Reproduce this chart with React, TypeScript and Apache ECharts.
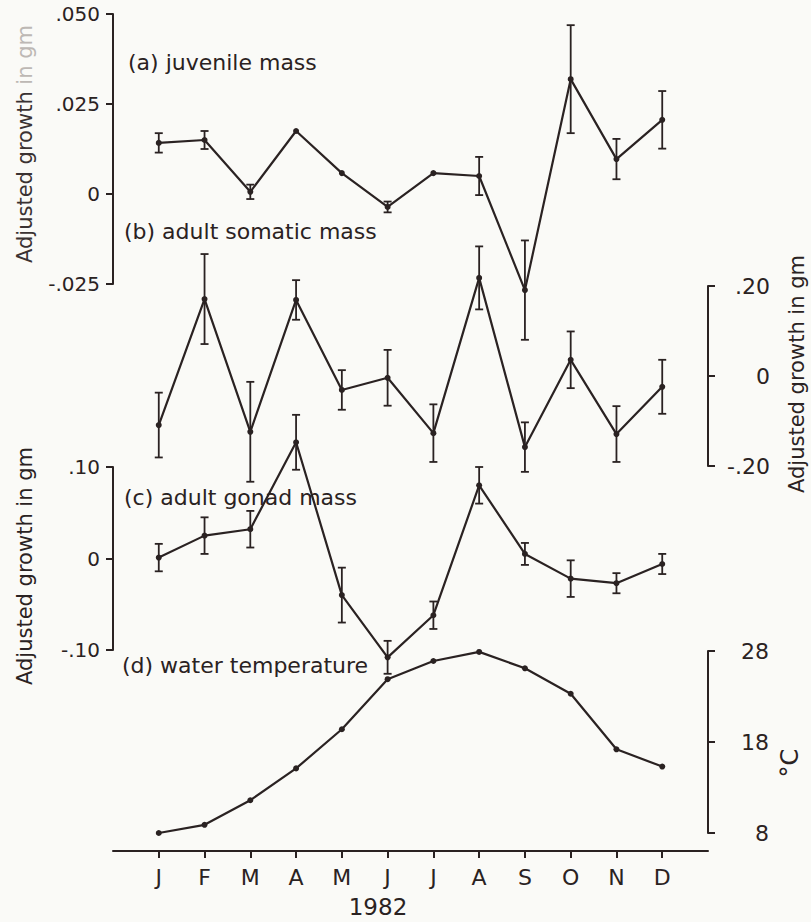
import React, { useEffect, useRef } from "react";
import * as echarts from "echarts";

// ---- data ----
const MONTH_LABELS = ["J", "F", "M", "A", "M", "J", "J", "A", "S", "O", "N", "D"];
const YEAR_LABEL = "1982";

// (a) juvenile mass
const juvValues = [0.0142, 0.015, 0.0006, 0.0175, 0.0058, -0.0036, 0.0058, 0.005, -0.0267, 0.0319, 0.0097, 0.0206];
const juvErrors = [0.0027, 0.0025, 0.002, null, null, 0.0015, null, 0.0053, 0.0138, 0.015, 0.0056, 0.008];
const juvTicks = [-0.025, 0, 0.025, 0.05];

// (b) adult somatic mass
const somValues = [-0.109, 0.171, -0.124, 0.169, -0.031, -0.004, -0.127, 0.218, -0.158, 0.036, -0.129, -0.024];
const somErrors = [0.072, 0.1, 0.111, 0.044, 0.044, 0.062, 0.064, 0.07, 0.055, 0.063, 0.062, 0.06];
const somTicks = [-0.2, 0, 0.2];

// (c) adult gonad mass
const gonValues = [0.001, 0.025, 0.032, 0.127, -0.04, -0.108, -0.062, 0.08, 0.005, -0.022, -0.027, -0.006];
const gonErrors = [0.015, 0.02, 0.02, 0.03, 0.03, 0.018, 0.015, 0.02, 0.012, 0.02, 0.011, 0.011];
const gonTicks = [-0.1, 0, 0.1];

// (d) water temperature (°C)
const tempValues = [8.0, 8.9, 11.6, 15.1, 19.4, 24.9, 26.9, 27.9, 26.1, 23.3, 17.2, 15.3];
const tempTicks = [8, 18, 28];

const PANEL_LABELS = ["(a) juvenile mass", "(b) adult somatic mass", "(c) adult gonad mass", "(d) water temperature"];
const Y_TITLE = "Adjusted growth in gm";
const TEMP_TITLE = "°C";

// ---- style ----
const INK = "#2a2222";
const FONT = "DejaVu Sans";
const BG = "#fafaf7";

const categories = ["pad0", ...MONTH_LABELS.map((_, i) => "m" + i), "pad13"];

function fmt(digits: number) {
  return (v: number) => {
    if (Math.abs(v) < 1e-9) return "0";
    return v.toFixed(digits).replace("0.", ".");
  };
}

function errorSeries(idx: number, values: number[], errors: (number | null)[]) {
  const data: number[][] = [];
  values.forEach((v, i) => {
    const e = errors[i];
    if (e !== null && e !== undefined) data.push([i + 1, v, e]);
  });
  return {
    type: "custom",
    xAxisIndex: idx,
    yAxisIndex: idx,
    clip: false,
    z: 3,
    encode: { x: 0, y: 1 },
    data,
    renderItem: (params: any, api: any) => {
      const x = api.value(0);
      const y = api.value(1);
      const e = api.value(2);
      const top = api.coord([x, y + e]);
      const bot = api.coord([x, y - e]);
      const cap = 4;
      const style = { stroke: INK, lineWidth: 1.8 };
      return {
        type: "group",
        children: [
          { type: "line", shape: { x1: top[0], y1: top[1], x2: bot[0], y2: bot[1] }, style },
          { type: "line", shape: { x1: top[0] - cap, y1: top[1], x2: top[0] + cap, y2: top[1] }, style },
          { type: "line", shape: { x1: bot[0] - cap, y1: bot[1], x2: bot[0] + cap, y2: bot[1] }, style },
        ],
      };
    },
  };
}

function lineSeries(idx: number, values: number[]) {
  return {
    type: "line",
    xAxisIndex: idx,
    yAxisIndex: idx,
    clip: false,
    z: 4,
    data: values.map((v, i) => [i + 1, v]),
    symbol: "circle",
    symbolSize: 6,
    itemStyle: { color: INK },
    lineStyle: { color: INK, width: 2.2 },
  };
}

function yAxis(idx: number, position: string, min: number, max: number, ticks: number[], formatter: any, labelStyle: any) {
  return {
    type: "value",
    gridIndex: idx,
    position,
    min,
    max,
    axisLine: { show: true, lineStyle: { color: INK, width: 2 } },
    axisTick: { show: true, length: 7, customValues: ticks, lineStyle: { color: INK, width: 2 } },
    axisLabel: { customValues: ticks, formatter, color: INK, fontFamily: FONT, ...labelStyle },
    splitLine: { show: false },
  };
}

const GRID_LEFT = 113;
const GRID_RIGHT = 811 - 708;

export default function App() {
  const ref = useRef<HTMLDivElement>(null);

  useEffect(() => {
    if (!ref.current) return;
    const chart = echarts.init(ref.current, null, { renderer: "svg" });

    const grids = [
      { top: 14, height: 270 },
      { top: 286, height: 180 },
      { top: 467, height: 183 },
      { top: 651, height: 182 },
    ].map((g) => ({ left: GRID_LEFT, right: GRID_RIGHT, top: g.top, height: g.height }));

    const xAxes = grids.map((_, i) => ({
      type: "category",
      gridIndex: i,
      data: categories,
      boundaryGap: false,
      show: i === 3,
      offset: 18,
      axisLine: { show: true, onZero: false, lineStyle: { color: INK, width: 2 } },
      axisTick: {
        show: true,
        length: 7,
        interval: (index: number) => index >= 1 && index <= 12,
        lineStyle: { color: INK, width: 2 },
      },
      axisLabel: {
        interval: 0,
        margin: 15,
        fontSize: 22,
        fontFamily: FONT,
        color: INK,
        formatter: (_v: string, index: number) => (index >= 1 && index <= 12 ? MONTH_LABELS[index - 1] : ""),
      },
      splitLine: { show: false },
    }));

    const yAxes = [
      yAxis(0, "left", -0.025, 0.05, juvTicks, fmt(3), { fontSize: 20, margin: 13 }),
      yAxis(1, "right", -0.2, 0.2, somTicks, fmt(2), { fontSize: 22, margin: 62, align: "right" }),
      yAxis(2, "left", -0.1, 0.1, gonTicks, fmt(2), { fontSize: 20, margin: 13 }),
      yAxis(3, "right", 8, 28, tempTicks, (v: number) => String(Math.round(v)), { fontSize: 22, margin: 61, align: "right" }),
    ];

    const labelText = (text: string, x: number, y: number) => ({
      type: "text",
      x,
      y,
      style: { text, fill: INK, font: `22px "${FONT}"`, textAlign: "left", textVerticalAlign: "middle" },
    });
    const vText = (text: string, x: number, y: number, rich?: any) => ({
      type: "text",
      x,
      y,
      rotation: Math.PI / 2,
      style: { text, fill: INK, font: `21px "${FONT}"`, textAlign: "center", textVerticalAlign: "middle", rich },
    });

    chart.setOption({
      animation: false,
      backgroundColor: BG,
      grid: grids,
      xAxis: xAxes,
      yAxis: yAxes,
      series: [
        lineSeries(0, juvValues),
        errorSeries(0, juvValues, juvErrors),
        lineSeries(1, somValues),
        errorSeries(1, somValues, somErrors),
        lineSeries(2, gonValues),
        errorSeries(2, gonValues, gonErrors),
        lineSeries(3, tempValues),
      ],
      graphic: [
        labelText(PANEL_LABELS[0], 128, 62),
        labelText(PANEL_LABELS[1], 124, 231),
        labelText(PANEL_LABELS[2], 124, 497),
        labelText(PANEL_LABELS[3], 122, 665),
        vText("{d|Adjusted growth} {l|in gm}", 25, 144, {
          d: { fill: "#3a3232", font: `21px "${FONT}"` },
          l: { fill: "#bdb8b4", font: `21px "${FONT}"` },
        }),
        vText(Y_TITLE, 25, 566),
        vText(Y_TITLE, 797, 374),
        {
          type: "text",
          x: 790,
          y: 763,
          rotation: Math.PI / 2,
          style: { text: TEMP_TITLE, fill: INK, font: `24px "${FONT}"`, textAlign: "center", textVerticalAlign: "middle" },
        },
        {
          type: "text",
          x: 378,
          y: 907,
          style: { text: YEAR_LABEL, fill: INK, font: `23px "${FONT}"`, textAlign: "center", textVerticalAlign: "middle" },
        },
      ],
    });

    return () => chart.dispose();
  }, []);

  return <div ref={ref} style={{ position: "fixed", left: 0, top: 0, width: 811, height: 922 }} />;
}
